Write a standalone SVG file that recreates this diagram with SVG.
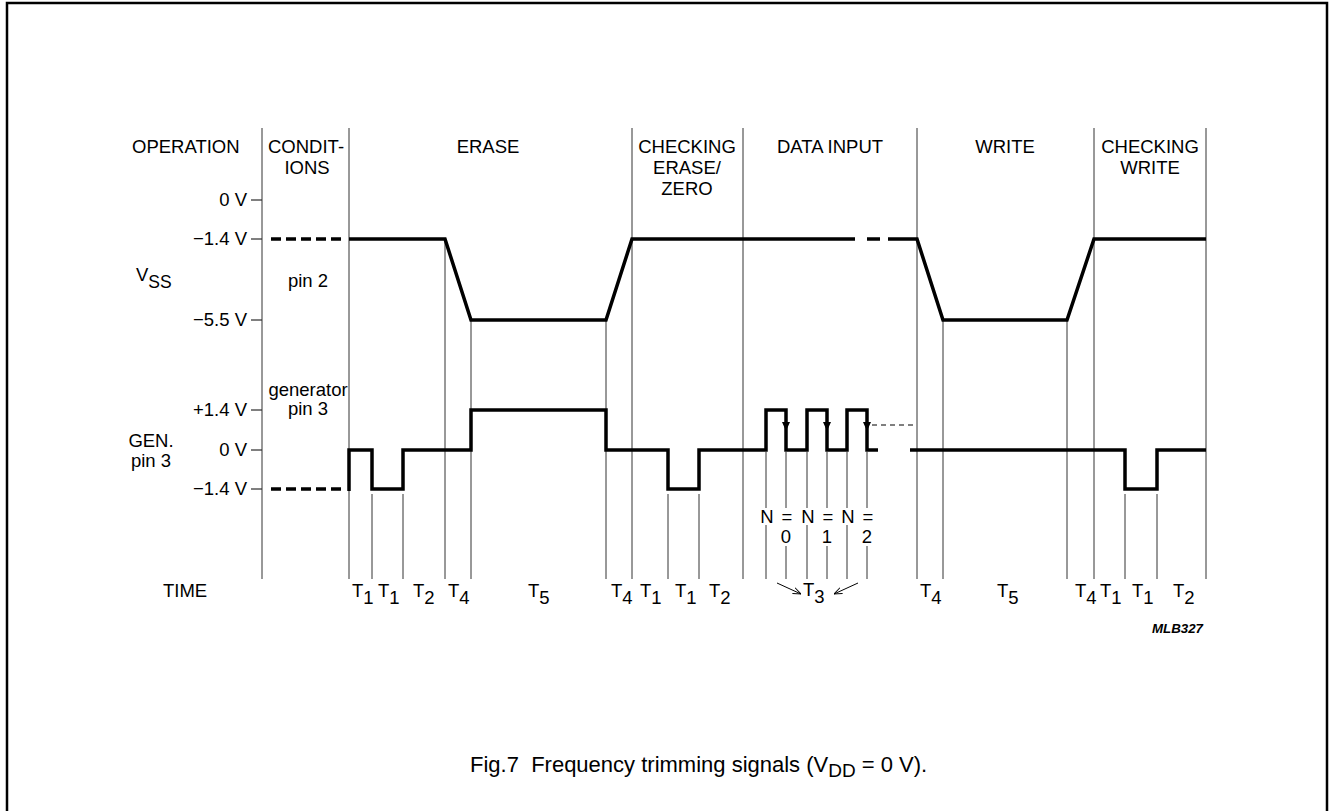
<svg xmlns="http://www.w3.org/2000/svg" width="1330" height="811" viewBox="0 0 1330 811">
<defs>
<style>
text{font-family:"Liberation Sans",Arial,sans-serif;fill:#000;font-size:18.5px}
.hd{text-anchor:middle}
.lv{text-anchor:end}
.tl{font-size:17.5px}
.cap{font-size:22px}
.code{font-size:12px;font-weight:bold;font-style:italic}
.grid{stroke:#333;stroke-width:1;fill:none}
.sig{stroke:#000;stroke-width:3.5;fill:none;stroke-linejoin:miter;stroke-linecap:butt}
.dash{stroke:#000;stroke-width:3.5;fill:none;stroke-dasharray:10 5}
.thin{stroke:#000;stroke-width:1;fill:none}
</style>
<marker id="oa" viewBox="0 0 10 10" refX="10" refY="5" markerWidth="8" markerHeight="8" orient="auto" markerUnits="userSpaceOnUse">
<path d="M0,1 L10,5 L0,9" fill="none" stroke="#000" stroke-width="1.2"/>
</marker>
</defs>
<rect width="1330" height="811" fill="#fff"/>
<path id="frame" d="M7,811 V3 H1327 V811" fill="none" stroke="#000" stroke-width="2.5"/>

<g id="headers">
<text x="132" y="153">OPERATION</text>
<text x="268" y="153">CONDIT-</text>
<text class="hd" x="307" y="174">IONS</text>
<text class="hd" x="488" y="153">ERASE</text>
<text class="hd" x="687" y="153">CHECKING</text>
<text class="hd" x="687" y="174">ERASE/</text>
<text class="hd" x="687" y="195">ZERO</text>
<text class="hd" x="830" y="153">DATA INPUT</text>
<text class="hd" x="1005" y="153">WRITE</text>
<text class="hd" x="1150" y="153">CHECKING</text>
<text class="hd" x="1150" y="174">WRITE</text>
</g>

<g id="left-labels">
<text class="lv" x="247" y="206">0 V</text>
<text class="lv" x="247" y="245">−1.4 V</text>
<text class="lv" x="247" y="326">−5.5 V</text>
<text class="lv" x="247" y="416">+1.4 V</text>
<text class="lv" x="247" y="456">0 V</text>
<text class="lv" x="247" y="495">−1.4 V</text>
<text x="136" y="281">V<tspan font-size="17.5" dy="7">SS</tspan></text>
<text class="hd" x="308" y="287">pin 2</text>
<text class="hd" x="308" y="396">generator</text>
<text class="hd" x="308" y="415">pin 3</text>
<text class="hd" x="151" y="447">GEN.</text>
<text class="hd" x="151" y="467">pin 3</text>
<text x="163" y="597">TIME</text>
</g>

<g id="ticks" class="thin">
<path d="M251,200 H262 M251,239 H262 M251,320 H262 M251,410 H262 M251,450 H262 M251,489 H262"/>
</g>

<g id="grid" class="grid">
<path d="M262,128 V579 M349,128 V579 M632,128 V579 M743,128 V579 M917,128 V579 M1094,128 V579 M1206,128 V579"/>
<path d="M372,494 V579 M403,494 V579 M445,239 V579 M471,320 V579 M606,320 V579 M668,494 V579 M699,494 V579"/>
<path d="M766,452 V508 M766,525 V579 M786,452 V508 M786,546 V579 M807,452 V508 M807,525 V579 M827,452 V508 M827,546 V579 M847,452 V508 M847,525 V579 M867,452 V508 M867,546 V579"/>
<path d="M943,320 V579 M1067,320 V579 M1125,494 V579 M1157,494 V579"/>
</g>

<g id="vss-signal">
<path class="dash" d="M271,239 H346"/>
<path class="sig" d="M349,239 H445 L471,320 H606 L632,239 H855 M867,239 H880 M888,239 H917 L943,320 H1067 L1094,239 H1206"/>
</g>

<g id="gen-signal">
<path class="dash" d="M271,489 H346"/>
<path class="sig" d="M349,491 V450 H372 V489 H403 V450 H471 V410 H606 V450 H668 V489 H699 V450 H766 V410 H786 V450 H807 V410 H827 V450 H847 V410 H867 V450 H878 M910,450 H1125 V489 H1157 V450 H1206"/>
<path d="M782,422 H790 L786,431 Z M823,422 H831 L827,431 Z M863,422 H871 L867,431 Z" fill="#000"/>
<path d="M872,425 H915" stroke="#000" stroke-width="1" stroke-dasharray="5 4"/>
</g>

<g id="n-labels" class="tl">
<text class="hd" x="767" y="523">N</text><text class="hd" x="787" y="523">=</text><text class="hd" x="786" y="543">0</text>
<text class="hd" x="808" y="523">N</text><text class="hd" x="828" y="523">=</text><text class="hd" x="827" y="543">1</text>
<text class="hd" x="848" y="523">N</text><text class="hd" x="868" y="523">=</text><text class="hd" x="867" y="543">2</text>
</g>

<g id="connectors">
<path class="thin" d="M777,583 L801,594" marker-end="url(#oa)"/>
<path class="thin" d="M858,583 L834,594" marker-end="url(#oa)"/>
</g>

<g id="time-labels" class="tl">
<text x="352" y="597">T<tspan dy="7">1</tspan></text>
<text x="378" y="597">T<tspan dy="7">1</tspan></text>
<text x="413" y="597">T<tspan dy="7">2</tspan></text>
<text x="448" y="597">T<tspan dy="7">4</tspan></text>
<text x="528" y="597">T<tspan dy="7">5</tspan></text>
<text x="611" y="597">T<tspan dy="7">4</tspan></text>
<text x="640" y="597">T<tspan dy="7">1</tspan></text>
<text x="675" y="597">T<tspan dy="7">1</tspan></text>
<text x="709" y="597">T<tspan dy="7">2</tspan></text>
<text x="803" y="596">T<tspan dy="7">3</tspan></text>
<text x="920" y="597">T<tspan dy="7">4</tspan></text>
<text x="997" y="597">T<tspan dy="7">5</tspan></text>
<text x="1075" y="597">T<tspan dy="7">4</tspan></text>
<text x="1100" y="597">T<tspan dy="7">1</tspan></text>
<text x="1132" y="597">T<tspan dy="7">1</tspan></text>
<text x="1173" y="597">T<tspan dy="7">2</tspan></text>
</g>

<text id="code" class="code" x="1152" y="633" textLength="51" lengthAdjust="spacingAndGlyphs">MLB327</text>

<text id="caption" class="cap" x="470" y="772" xml:space="preserve">Fig.7  Frequency trimming signals (V<tspan font-size="19" dy="5">DD</tspan><tspan dy="-5"> = 0 V).</tspan></text>
</svg>
